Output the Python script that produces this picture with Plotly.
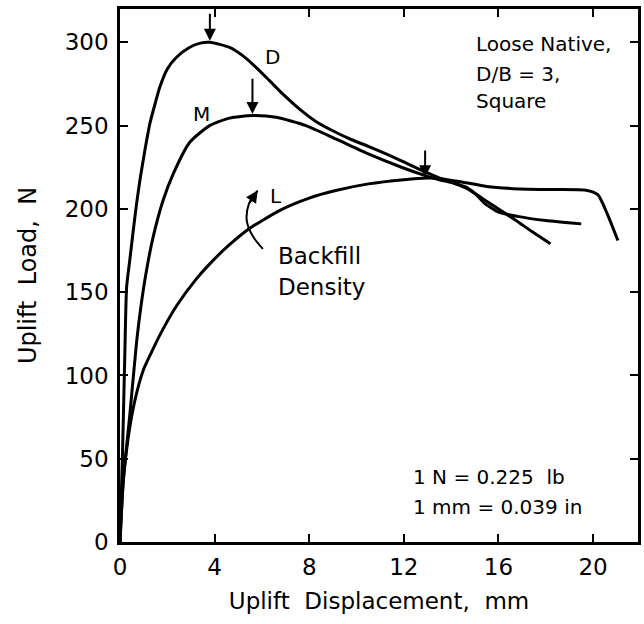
import plotly.graph_objects as go

# Uplift load vs displacement for three backfill densities (Loose native soil, D/B = 3, square anchor)
dense_x = [0, 0.1, 0.2, 0.28, 0.42, 0.56, 0.70, 0.84, 1.05, 1.26, 1.5, 1.68, 2.0, 2.39, 2.95, 3.4, 3.8,
           4.63, 5.19, 5.75, 6.32, 6.88, 7.58, 8.28, 9.12, 9.8, 10.5, 11.2, 11.9, 12.9, 13.5,
           14.1, 14.7, 15.4, 16.1, 16.7, 17.4, 18.2]
dense_y = [0, 50, 110, 153, 170, 187, 203, 217, 235, 251, 264, 273, 284, 291, 297, 299.5, 300,
           297, 292, 285, 277, 269, 260, 252.5, 246, 241.5, 237.5, 233.3, 228.8, 222.2, 218.6,
           215.5, 212, 205.5, 199, 193.5, 186.5, 179]

medium_x = [0, 0.14, 0.42, 0.70, 0.9, 1.12, 1.4, 1.82, 2.25, 2.95, 3.79, 4.63, 5.6, 6.6, 7.86,
            9.12, 10.5, 11.9, 12.9, 13.5, 14.1, 14.7, 15.1, 15.4, 16.0, 16.8, 18.0, 19.5]
medium_y = [0, 37, 77, 120, 143, 163, 183, 205, 221, 240, 250, 254.5, 256, 255, 250,
            242, 233, 225, 220, 217.5, 215.5, 212.5, 208, 203.5, 198, 195.5, 193, 191]

loose_x = [0, 0.14, 0.35, 0.63, 0.98, 1.3, 1.75, 2.4, 3.23, 4.0, 4.63, 5.4, 6.74, 8.0, 9.12, 10.5,
           12.0, 13.0, 13.5, 14.5, 15.5, 16.5, 18.0, 19.7, 20.2, 20.6, 21.05]
loose_y = [0, 37, 63, 85, 103, 113, 126, 142, 158, 170, 178.5, 187.5, 199, 206.5, 211, 215,
           217.5, 218.5, 218.3, 216, 213.5, 212.3, 211.6, 211.2, 208.5, 197, 181]

# Peak markers: (displacement, peak load, arrow tail load)
peak_x = [3.8, 5.6, 12.9]
peak_y = [301, 257, 219]
peak_tail = [318, 279, 236]

# Curved "backfill density" arrow path
bf_x = [6.04, 5.6, 5.36, 5.45, 5.82]
bf_y = [176, 184, 193, 203, 211]

x_ticks = [0, 4, 8, 12, 16, 20]
y_ticks = [0, 50, 100, 150, 200, 250, 300]

FONT = "DejaVu Sans"
INK = "black"
SP = "&nbsp; "

fig = go.Figure()
for xs, ys in [(dense_x, dense_y), (medium_x, medium_y), (loose_x, loose_y)]:
    fig.add_trace(go.Scatter(x=xs, y=ys, mode="lines",
                             line=dict(color=INK, width=3, shape="spline", smoothing=0.6),
                             showlegend=False, hoverinfo="skip"))

fig.add_trace(go.Scatter(x=bf_x, y=bf_y, mode="lines",
                         line=dict(color=INK, width=2, shape="spline", smoothing=1.0),
                         showlegend=False, hoverinfo="skip"))

annotations = []
for px, py, pt in zip(peak_x, peak_y, peak_tail):
    annotations.append(dict(x=px, y=py, ax=px, ay=pt, xref="x", yref="y", axref="x", ayref="y",
                            text="", showarrow=True, arrowhead=2, arrowsize=1.2, arrowwidth=2,
                            arrowcolor=INK))
annotations.append(dict(x=bf_x[-1], y=bf_y[-1], ax=bf_x[-2], ay=bf_y[-2], xref="x", yref="y",
                        axref="x", ayref="y", text="", showarrow=True, arrowhead=2, arrowsize=1.2,
                        arrowwidth=2, arrowcolor=INK))

def label(x, y, text, anchor="center", size=20):
    annotations.append(dict(x=x, y=y, xref="x", yref="y", text=text, showarrow=False,
                            xanchor=anchor, yanchor="middle",
                            font=dict(family=FONT, size=size, color=INK)))

label(6.44, 291, "D")
label(3.45, 257, "M")
label(6.6, 208, "L")
label(6.6, 172, "Backfill", "left", 23)
label(6.6, 153, "Density", "left", 23)
label(14.95, 299, "Loose Native,", "left")
label(14.95, 281, "D/B = 3,", "left")
label(14.95, 265, "Square", "left")
label(12.3, 39, "1 N = 0.225" + SP + "lb", "left")
label(12.3, 21, "1 mm = 0.039 in", "left")

axis_common = dict(showgrid=False, zeroline=False, showline=True, linecolor=INK, linewidth=2.5,
                   mirror="allticks", ticks="inside", ticklen=8, tickwidth=2, tickcolor=INK,
                   tickfont=dict(family=FONT, size=23, color=INK))

fig.update_layout(
    width=644, height=624,
    margin=dict(l=120, r=3, t=9, b=82),
    paper_bgcolor="white", plot_bgcolor="white",
    annotations=annotations,
    xaxis=dict(range=[0, 21.9], tickvals=x_ticks, ticklabelstandoff=3,
               title=dict(text="Uplift" + SP + "Displacement," + SP + "mm", standoff=14,
                          font=dict(family=FONT, size=23, color=INK)),
               **axis_common),
    yaxis=dict(range=[0, 320], tickvals=y_ticks, ticklabelstandoff=4,
               title=dict(text="Uplift" + SP + "Load," + SP + "N", standoff=22,
                          font=dict(family=FONT, size=24, color=INK)),
               **axis_common),
)

fig.write_html("out.html")
